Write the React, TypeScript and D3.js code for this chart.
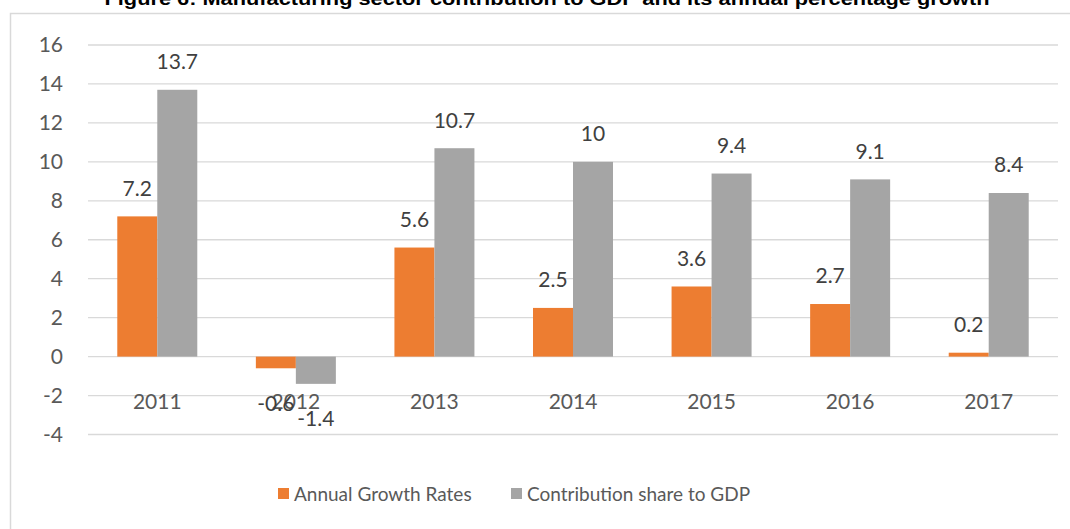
import React from 'react';
import * as d3 from 'd3';

const years = ['2011', '2012', '2013', '2014', '2015', '2016', '2017'];
const growthRates = [7.2, -0.6, 5.6, 2.5, 3.6, 2.7, 0.2];
const gdpShare = [13.7, -1.4, 10.7, 10, 9.4, 9.1, 8.4];
const yTicks = [-4, -2, 0, 2, 4, 6, 8, 10, 12, 14, 16];
const seriesNames = ['Annual Growth Rates', 'Contribution share to GDP'];
const seriesColors = ['#ED7D31', '#A5A5A5'];
const title = 'Figure 6: Manufacturing sector contribution to GDP and its annual percentage growth';

const W = 1070;
const H = 529;
const plot = { left: 88, right: 1058, top: 45, bottom: 434.5 };
const font = 'Lato, "Open Sans", sans-serif';

export default function App() {
  const x = d3.scaleBand<string>().domain(years).range([plot.left, plot.right]).padding(0);
  const y = d3.scaleLinear().domain([-4, 16]).range([plot.bottom, plot.top]);
  const barW = 40;
  const half = x.bandwidth() / 2;
  // two bars side by side, centred in each year band
  const inner = d3.scaleBand<number>().domain([0, 1]).range([half - barW, half + barW]);

  const series = [growthRates, gdpShare];

  return (
    <div style={{ position: 'absolute', left: 0, top: 0 }}>
      <svg width={W} height={H} style={{ display: 'block', background: '#fff' }}>
        <text
          x={547}
          y={5}
          textAnchor="middle"
          fontFamily='"Liberation Sans Narrow", "Liberation Sans", Arial, sans-serif'
          fontWeight="bold"
          fontSize={19}
          textLength={885}
          lengthAdjust="spacingAndGlyphs"
          fill="#000"
        >
          {title}
        </text>

        {/* chart frame */}
        <rect x={10.5} y={13.5} width={1075} height={530} fill="#fff" stroke="#d9d9d9" strokeWidth={1.5} />

        {/* grid + y labels */}
        {yTicks.map(t => (
          <g key={t}>
            <line x1={plot.left} x2={plot.right} y1={y(t)} y2={y(t)} stroke="#d9d9d9" strokeWidth={1.3} />
            <text x={63} y={y(t)} dy="0.35em" textAnchor="end" fontFamily={font} fontSize={21} fill="#595959">
              {t}
            </text>
          </g>
        ))}

        {/* bars */}
        {years.map((yr, i) => (
          <g key={yr} transform={`translate(${x(yr)},0)`}>
            {series.map((vals, s) => {
              const v = vals[i];
              const bx = inner(s) as number;
              return (
                <rect
                  key={s}
                  x={bx}
                  width={inner.bandwidth()}
                  y={Math.min(y(v), y(0))}
                  height={Math.max(Math.abs(y(v) - y(0)), 1.5)}
                  fill={seriesColors[s]}
                />
              );
            })}
          </g>
        ))}

        {/* category labels */}
        {years.map(yr => (
          <text
            key={yr}
            x={(x(yr) as number) + half}
            y={402}
            dy="0.35em"
            textAnchor="middle"
            fontFamily={font}
            fontSize={21}
            fill="#595959"
          >
            {yr}
          </text>
        ))}

        {/* data labels */}
        {years.map((yr, i) => (
          <g key={yr} transform={`translate(${x(yr)},0)`}>
            {series.map((vals, s) => {
              const v = vals[i];
              const cx = (inner(s) as number) + inner.bandwidth() / 2;
              const ly = v >= 0 ? y(v) - 28 : y(v) + 35;
              return (
                <text
                  key={s}
                  x={cx}
                  y={ly}
                  dy="0.35em"
                  textAnchor="middle"
                  fontFamily={font}
                  fontSize={21}
                  fill="#404040"
                >
                  {v}
                </text>
              );
            })}
          </g>
        ))}

        {/* legend */}
        {seriesNames.map((name, s) => {
          const lx = s === 0 ? 278 : 511;
          return (
            <g key={name} transform={`translate(${lx},488)`}>
              <rect width={11} height={11} fill={seriesColors[s]} />
              <text x={16} y={6} dy="0.35em" fontFamily={font} fontSize={19} fill="#595959">
                {name}
              </text>
            </g>
          );
        })}
      </svg>
    </div>
  );
}
